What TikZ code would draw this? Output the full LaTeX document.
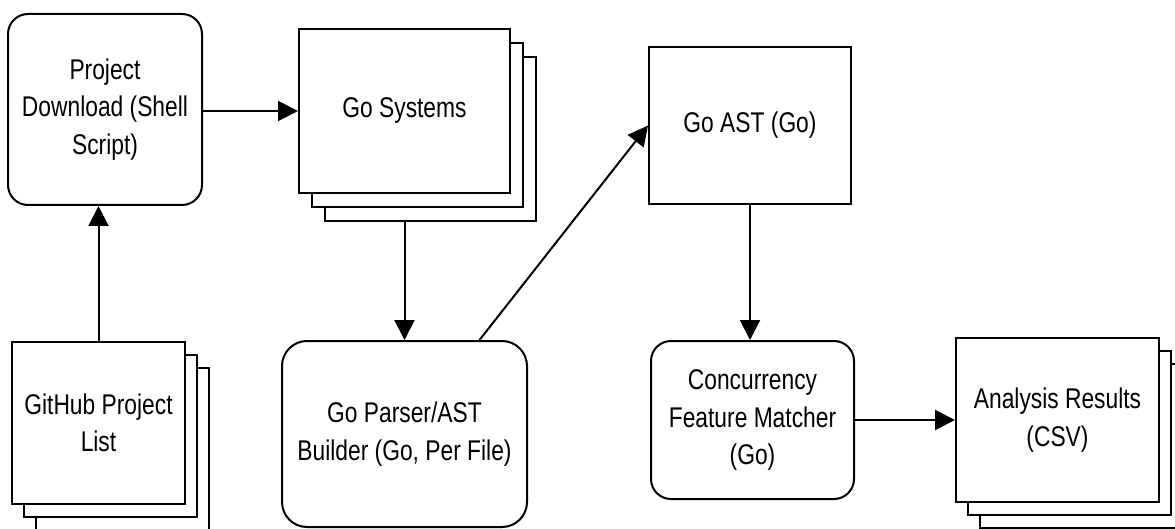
\documentclass[tikz,border=0pt]{standalone}
\usepackage{fontspec}
\setmainfont[FakeStretch=0.8]{Liberation Sans}
\usetikzlibrary{arrows.meta, shadows}

\begin{document}
\begin{tikzpicture}[
    x=1pt, y=-1pt,
    >={Triangle[length=20pt, width=20pt]},
    proc/.style={draw, rectangle, rounded corners=20pt, fill=white, line width=2pt, align=center, inner sep=0pt, font=\fontsize{28.5}{37.5}\selectfont},
    plain/.style={draw, rectangle, fill=white, line width=2pt, align=center, inner sep=0pt, font=\fontsize{28.5}{37.5}\selectfont},
    stack/.style={plain,
        copy shadow={shadow xshift=24pt, shadow yshift=-26pt, fill=white, draw=black, line width=2pt},
        copy shadow={shadow xshift=12pt, shadow yshift=-13pt, fill=white, draw=black, line width=2pt}},
    flow/.style={->, line width=2pt}
]
    \useasboundingbox (0,0) rectangle (1175,529);

    % Left column
    \node[proc] (pd) at (105,109.5) [minimum width=194pt, minimum height=191pt] {Project\\Download (Shell\\Script)};
    \node[stack] (gh) at (98.5,423) [minimum width=173pt, minimum height=162pt] {GitHub Project\\List};

    % Middle column
    \node[plain, minimum width=211pt, minimum height=164pt,
        copy shadow={shadow xshift=26pt, shadow yshift=-28pt, fill=white, draw=black, line width=2pt},
        copy shadow={shadow xshift=13pt, shadow yshift=-14pt, fill=white, draw=black, line width=2pt}]
        (gs) at (404.5,111) {Go Systems};
    \node[proc, rounded corners=25pt] (pp) at (404.5,434) [minimum width=245pt, minimum height=186pt] {Go Parser/AST\\Builder (Go, Per File)};

    % Right column
    \node[plain] (ast) at (750,125.5) [minimum width=202pt, minimum height=157pt] {Go AST (Go)};
    \node[proc] (cm) at (752.5,420) [minimum width=203pt, minimum height=158pt] {Concurrency\\Feature Matcher\\(Go)};
    \node[stack] (ar) at (1057.5,420) [minimum width=203pt, minimum height=164pt] {Analysis Results\\(CSV)};

    % Connections
    \draw[flow] (gh.north) -- (gh.north |- pd.south);
    \draw[flow] (pd.east |- gs.west) -- (gs.west);
    \draw[flow] ([yshift=-28pt]gs.south) -- (pp.north);
    \draw[flow] ([xshift=75pt]pp.north) -- (ast.west);
    \draw[flow] (ast.south) -- (ast.south |- cm.north);
    \draw[flow] (cm.east) -- (ar.west);

\end{tikzpicture}
\end{document}
